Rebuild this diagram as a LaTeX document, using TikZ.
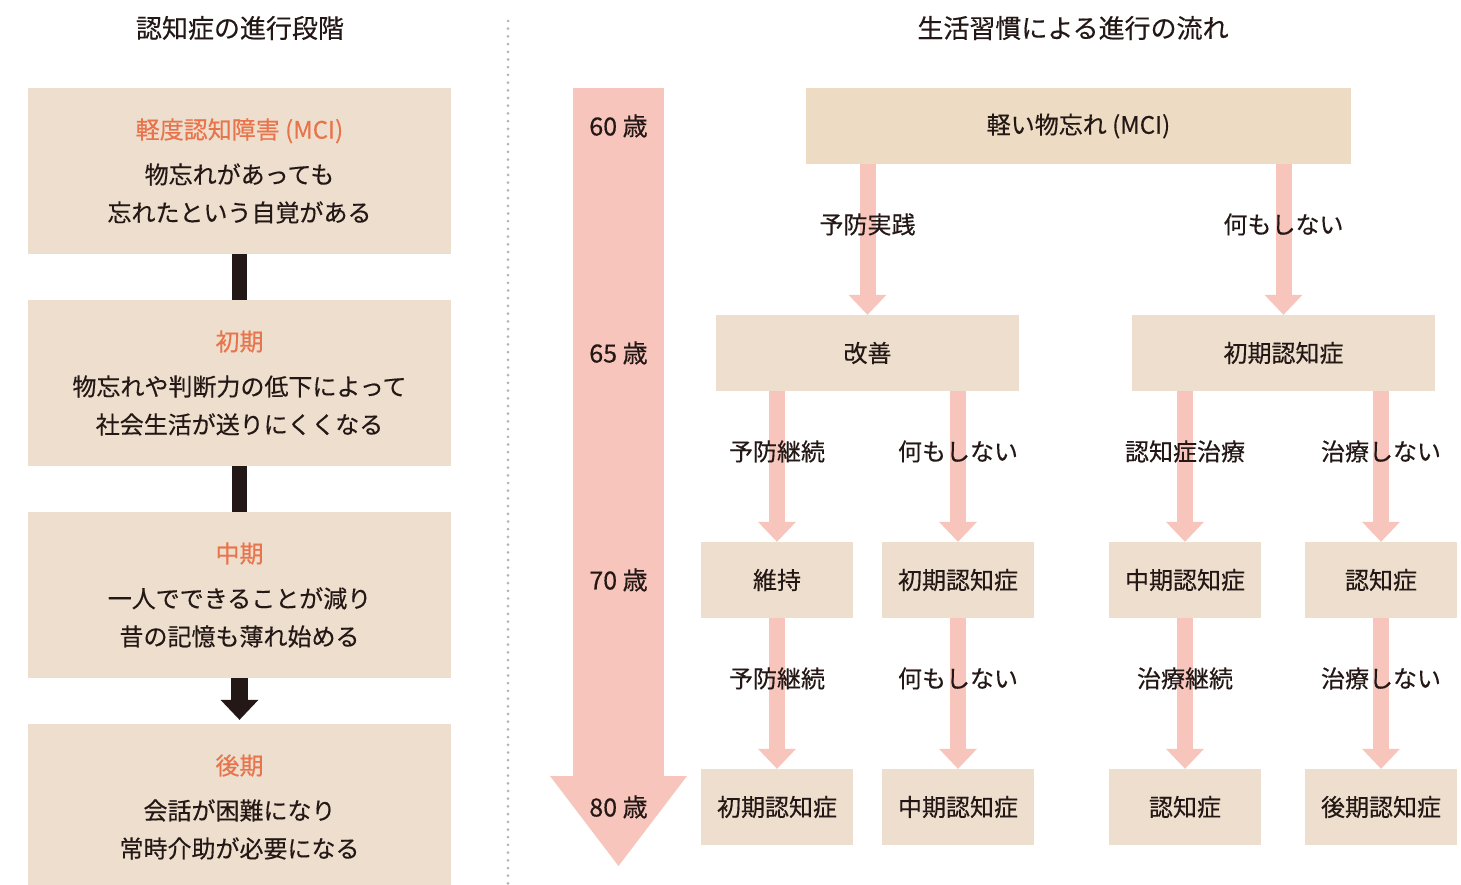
\documentclass[tikz,border=0pt]{standalone}
\usepackage{fontspec}
\setmainfont[FakeBold=0.35]{Noto Sans CJK JP}
\usetikzlibrary{positioning}
\usetikzlibrary{arrows.meta}
\definecolor{stagefill}{HTML}{EEDECD}
\definecolor{mcifill}{HTML}{EDDCC3}
\definecolor{flowpink}{HTML}{F7C5BC}
\definecolor{headorange}{HTML}{E8744B}
\definecolor{inkdark}{HTML}{231815}
\definecolor{dotgray}{HTML}{B4B4B4}
\tikzset{
	stage/.style={rectangle, inner sep=0pt, minimum width=423pt, minimum height=166pt, fill=stagefill, align=center, text=inkdark, font={\fontsize{24}{38}\selectfont}},
	mci/.style={rectangle, inner sep=0pt, minimum width=545pt, minimum height=76pt, fill=mcifill, text=inkdark, font={\fontsize{24}{30}\selectfont}},
	branch/.style={rectangle, inner sep=0pt, minimum width=303pt, minimum height=76pt, fill=stagefill, text=inkdark, font={\fontsize{24}{30}\selectfont}},
	outcome/.style={rectangle, inner sep=0pt, minimum width=152pt, minimum height=76pt, fill=stagefill, text=inkdark, font={\fontsize{24}{30}\selectfont}},
	% labels on the pink arrows
	flowtext/.style={text=inkdark, inner sep=0pt, font={\fontsize{24}{30}\selectfont}},
	flow/.style={draw=flowpink, line width=16pt, -{Triangle[width=38pt, length=20pt, line width=0pt]}},
	age/.style={text=inkdark, inner sep=0pt, font={\fontsize{25}{30}\selectfont}},
	heading/.style={text=inkdark, inner sep=0pt, font={\fontsize{26}{30}\selectfont}},
}
\newcommand{\stagehead}[1]{\textcolor{headorange}{#1}}

\begin{document}
\begin{tikzpicture}[x=1pt, y=-1pt, node distance=212pt]
	\useasboundingbox (0,0) rectangle (1461,885);
	\fill[white] (0,0) rectangle (1461,885);
	
	\node (lefttitle) [heading] at (240,28) {認知症の進行段階};
	\node (righttitle) [heading] at (1073,28) {生活習慣による進行の流れ};
	
	\coordinate (septop) at (508,21);
	\coordinate (sepbot) at (508,885);
	\draw[dotgray, line width=3pt, line cap=round, dash pattern=on 0pt off 7.7pt] (septop) -- (sepbot);
	
	\node (st1) [stage] at (239.5,171) {\stagehead{軽度認知障害 (MCI)}\\[7pt]物忘れがあっても\\忘れたという自覚がある};
	\node (st2) [stage, below of=st1] {\stagehead{初期}\\[7pt]物忘れや判断力の低下によって\\社会生活が送りにくくなる};
	\node (st3) [stage, below of=st2] {\stagehead{中期}\\[7pt]一人でできることが減り\\昔の記憶も薄れ始める};
	\node (st4) [stage, below of=st3] {\stagehead{後期}\\[7pt]会話が困難になり\\常時介助が必要になる};
	
	\begin{scope}[draw=inkdark, line width=15pt]
		\draw (st1.south) -- (st2.north);
		\draw (st2.south) -- (st3.north);
		\draw[line width=17pt, shorten >=4pt, -{Triangle[width=38pt, length=20pt, line width=0pt]}] (st3.south) -- (st4.north);
	\end{scope}
	
	\coordinate (agetop) at (618.5,88);
	\coordinate (agetip) at (618.5,866);
	\draw[draw=flowpink, line width=91pt, -{Triangle[width=137pt, length=90pt, line width=0pt]}] (agetop) -- (agetip);
	
	\node (mci) [mci] at (1078.5,126) {軽い物忘れ (MCI)};
	
	\node (kaizen) [branch, below of=mci, xshift=-211pt, yshift=-15pt] {改善};
	\node (shoki) [branch, below of=mci, xshift=205pt, yshift=-15pt] {初期認知症};
	
	\node (r3a) [outcome, below of=kaizen, xshift=-90.5pt, yshift=-15pt] {維持};
	\node (r3b) [outcome, below of=kaizen, xshift=90.5pt, yshift=-15pt] {初期認知症};
	\node (r3c) [outcome, below of=shoki, xshift=-98.5pt, yshift=-15pt] {中期認知症};
	\node (r3d) [outcome, below of=shoki, xshift=97.5pt, yshift=-15pt] {認知症};
	
	\node (r4a) [outcome, below of=r3a, yshift=-15pt] {初期認知症};
	\node (r4b) [outcome, below of=r3b, yshift=-15pt] {中期認知症};
	\node (r4c) [outcome, below of=r3c, yshift=-15pt] {認知症};
	\node (r4d) [outcome, below of=r3d, yshift=-15pt] {後期認知症};
	
	\node (a60) [age] at (agetop |- mci) {60 歳};
	\node (a65) [age] at (agetop |- kaizen) {65 歳};
	\node (a70) [age] at (agetop |- r3a) {70 歳};
	\node (a80) [age] at (agetop |- r4a) {80 歳};
	
	\begin{scope}[flow]
		\draw (mci.south -| kaizen) -- node[flowtext, pos=0.4] {予防実践} (kaizen.north);
		\draw (mci.south -| shoki) -- node[flowtext, pos=0.4] {何もしない} (shoki.north);
		
		\draw (kaizen.south -| r3a) -- node[flowtext, pos=0.4] {予防継続} (r3a.north);
		\draw (kaizen.south -| r3b) -- node[flowtext, pos=0.4] {何もしない} (r3b.north);
		\draw (shoki.south -| r3c) -- node[flowtext, pos=0.4] {認知症治療} (r3c.north);
		\draw (shoki.south -| r3d) -- node[flowtext, pos=0.4] {治療しない} (r3d.north);
		
		\draw (r3a.south) -- node[flowtext, pos=0.4] {予防継続} (r4a.north);
		\draw (r3b.south) -- node[flowtext, pos=0.4] {何もしない} (r4b.north);
		\draw (r3c.south) -- node[flowtext, pos=0.4] {治療継続} (r4c.north);
		\draw (r3d.south) -- node[flowtext, pos=0.4] {治療しない} (r4d.north);
	\end{scope}
	
\end{tikzpicture}
\end{document}
